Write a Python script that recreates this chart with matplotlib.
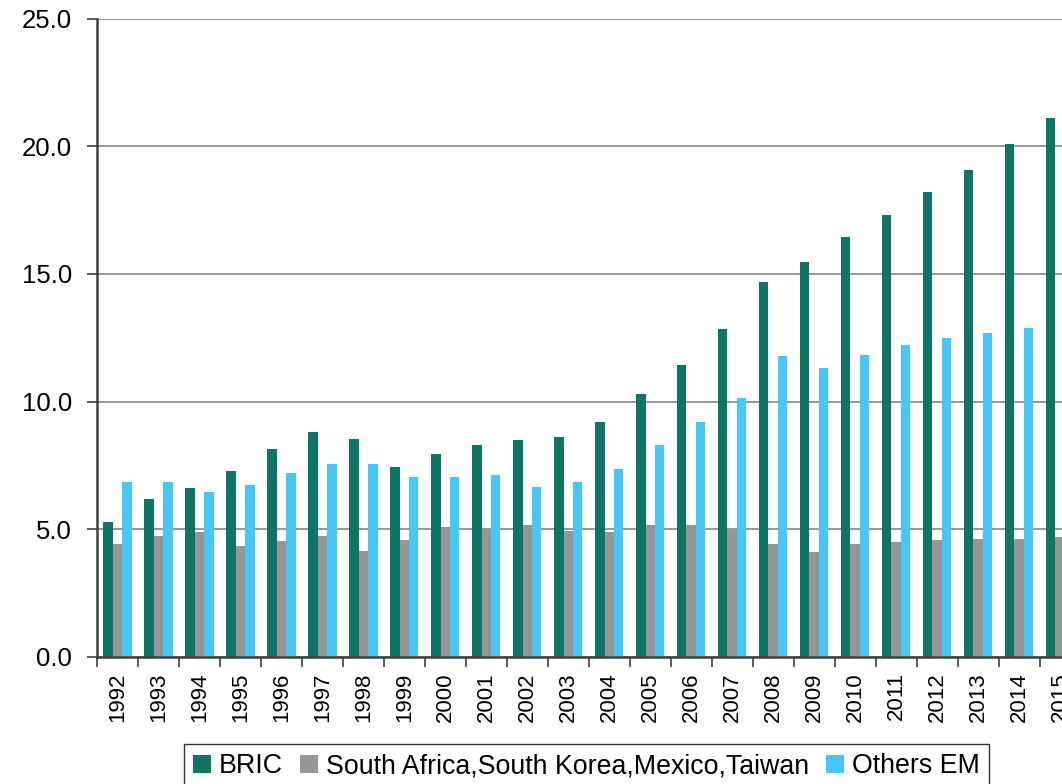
import matplotlib
matplotlib.use("Agg")
import matplotlib.pyplot as plt
from matplotlib.ticker import FixedLocator, FixedFormatter, FormatStrFormatter
import numpy as np

plt.rcParams['font.family'] = ['Liberation Sans', 'DejaVu Sans']

years = [str(y) for y in range(1992, 2016)]
bric = [5.3, 6.2, 6.6, 7.3, 8.15, 8.8, 8.55, 7.45, 7.95, 8.3, 8.5, 8.6,
        9.2, 10.3, 11.45, 12.85, 14.7, 15.45, 16.45, 17.3, 18.2, 19.05, 20.1, 21.1]
sa_kr_mx_tw = [4.42, 4.73, 4.88, 4.35, 4.54, 4.73, 4.14, 4.6, 5.08, 5.0, 5.16, 4.92,
               4.88, 5.16, 5.18, 4.97, 4.41, 4.12, 4.42, 4.5, 4.58, 4.62, 4.62, 4.7]
others_em = [6.86, 6.86, 6.47, 6.75, 7.22, 7.54, 7.57, 7.03, 7.03, 7.11, 6.64, 6.84,
             7.38, 8.31, 9.2, 10.15, 11.8, 11.3, 11.84, 12.2, 12.48, 12.68, 12.87, 13.1]
series_names = ["BRIC", "South Africa,South Korea,Mexico,Taiwan", "Others EM"]
series_colors = ["#0c7564", "#969696", "#45c8f5"]

fig = plt.figure(figsize=(10.62, 7.84), dpi=100)
ax = fig.add_axes([0.09134, 0.16199, 0.92608, 0.81441])

n = len(years)
centers = np.arange(n) + 0.5
w = 0.23
for k, (vals, name, col) in enumerate(zip([bric, sa_kr_mx_tw, others_em], series_names, series_colors)):
    ax.bar(centers + (k - 1) * w, vals, width=w, color=col, label=name,
           zorder=3, linewidth=0)

ax.set_xlim(0, n)
ax.set_ylim(0, 25)
ax.set_yticks([0, 5, 10, 15, 20, 25])
ax.yaxis.set_major_formatter(FormatStrFormatter('%.1f'))
ax.yaxis.grid(True, color='#7a7a7a', linewidth=1.1, zorder=0)
ax.set_axisbelow(True)

# group boundaries carry the tick marks, group centres carry the year labels
ax.xaxis.set_major_locator(FixedLocator(np.arange(n + 1)))
ax.xaxis.set_major_formatter(FixedFormatter([''] * (n + 1)))
ax.xaxis.set_minor_locator(FixedLocator(centers))
ax.xaxis.set_minor_formatter(FixedFormatter(years))
ax.tick_params(axis='x', which='major', length=7, width=1.2, color='#404040', direction='out')
ax.tick_params(axis='x', which='minor', length=0, pad=11, labelsize=16, labelrotation=90)
ax.tick_params(axis='y', which='major', length=7.5, width=1.2, color='#404040',
               direction='out', pad=10.5, labelsize=18.5)

for side in ['top', 'right']:
    ax.spines[side].set_visible(False)
for side in ['left', 'bottom']:
    ax.spines[side].set_color('#404040')
    ax.spines[side].set_linewidth(1.8)
    ax.spines[side].set_zorder(4)

leg = ax.legend(loc='upper center', bbox_to_anchor=(0.4977, -0.1363), ncol=3,
                frameon=True, fancybox=False, shadow=False, fontsize=19.3,
                borderaxespad=0, borderpad=0.35, handlelength=0.68, handleheight=0.66,
                handletextpad=0.3, columnspacing=0.62)
leg.get_frame().set_edgecolor('black')
leg.get_frame().set_linewidth(1.0)

fig.savefig("out.png", dpi=100)
